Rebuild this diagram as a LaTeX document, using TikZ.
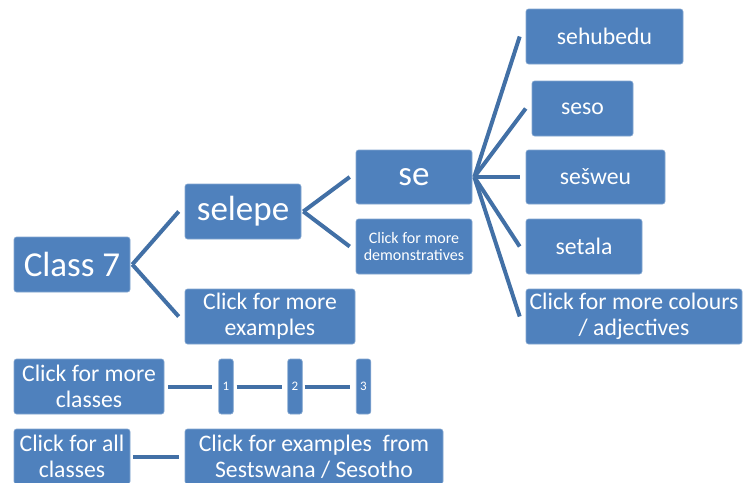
\documentclass[tikz,border=0pt]{standalone}
\usepackage{fontspec}
\setmainfont{Carlito}
\usepackage{tikz}
\usetikzlibrary{positioning}

\definecolor{boxblue}{RGB}{79,129,189}
\definecolor{linkblue}{RGB}{66,112,166}

\begin{document}
\begin{tikzpicture}[
    x=1pt, y=-1pt,
    every node/.style={font=\fontsize{23.7}{26}\selectfont, text=white, align=center},
    wordbox/.style={rectangle, rounded corners=2.5pt, fill=boxblue, draw=boxblue!70!white,
                    line width=0.6pt, inner sep=0pt},
    bigbox/.style={wordbox, font=\fontsize{35}{38}\selectfont},
    smallbox/.style={wordbox, font=\fontsize{16}{16.7}\selectfont},
    numbox/.style={wordbox, font=\fontsize{13}{14}\selectfont, minimum width=14.5pt, minimum height=55pt},
    link/.style={draw=linkblue, line width=4pt}
]
% page frame
\useasboundingbox (0,0) rectangle (744,482);
\clip (0,0) rectangle (744,482);
\fill[white] (0,0) rectangle (744,482);
% --- first level
\node[bigbox, minimum width=116pt, minimum height=55pt] (class) at (72,264.5) {Class 7};
\node[bigbox, minimum width=116pt, minimum height=55pt] (selepe) at (243,211.5) {selepe};
\node[wordbox, minimum width=170pt, minimum height=55pt] (moreex) at (270,316.5)
    {Click for more\\examples};
% --- demonstratives
\node[bigbox, minimum width=116pt, minimum height=54pt] (se) at (414,177) {se};
\node[smallbox, minimum width=116pt, minimum height=55pt] (moredem) at (414,246.5)
    {Click for more\\demonstratives};
% --- adjectives
\node[wordbox, minimum width=157pt, minimum height=55pt] (sehubedu) at (604.5,36.5) {sehubedu};
\node[wordbox, minimum width=101pt, minimum height=55pt] (seso) at (582.5,108.5) {seso};
\node[wordbox, minimum width=139pt, minimum height=54pt] (sesweu) at (595.5,177) {sešweu};
\node[wordbox, minimum width=116pt, minimum height=55pt] (setala) at (584,246.5) {setala};
\node[wordbox, minimum width=216pt, minimum height=55pt] (morecol) at (634,316.5)
    {Click for more colours\\/ adjectives};
% --- class navigation
\node[wordbox, minimum width=150pt, minimum height=55pt] (moreclass) at (89,386.5)
    {Click for more\\classes};
\node[numbox] (one) at (226,386.5) {1};
\node[numbox] (two) at (295,386.5) {2};
\node[numbox] (three) at (363.5,386.5) {3};
\node[wordbox, minimum width=116pt, minimum height=55pt] (allclass) at (72,456.5)
    {Click for all\\classes};
\node[wordbox, minimum width=258pt, minimum height=55pt] (sesotho) at (314,456.5)
    {Click for examples~~from\\Sestswana / Sesotho};
% forks
\foreach \src/\dst in {class/selepe, class/moreex, selepe/se, selepe/moredem,
                       se/sehubedu, se/seso, se/sesweu, se/setala, se/morecol}
  \draw[link] ([xshift=2pt]\src.east) -- ([xshift=-6pt]\dst.west);
% straight links
\draw[link, shorten <=4pt, shorten >=6pt] (moreclass.east) -- (one.west);
\draw[link, shorten <=3pt, shorten >=5pt] (one.east) -- (two.west);
\draw[link, shorten <=2pt, shorten >=6pt] (two.east) -- (three.west);
\draw[link, shorten <=3pt, shorten >=6pt] (allclass.east) -- (sesotho.west);
\end{tikzpicture}
\end{document}
